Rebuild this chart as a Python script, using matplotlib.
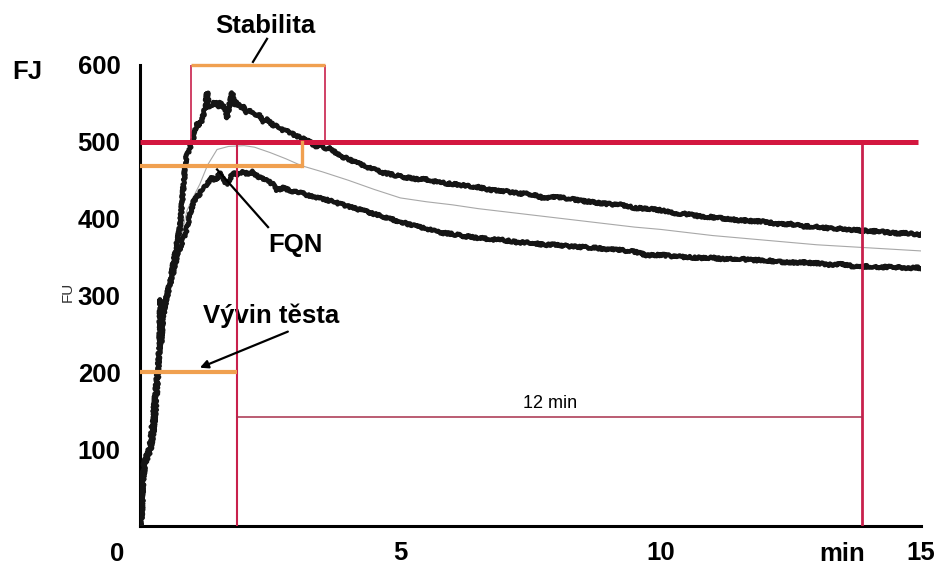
import matplotlib.pyplot as plt

plt.rcParams['font.family'] = ['Liberation Sans', 'DejaVu Sans']

# farinogram: cas [min], konzistence [FU]
cas_horni = [0.00, 0.03, 0.06, 0.10, 0.15, 0.19, 0.24, 0.29, 0.35, 0.40, 0.44, 0.50,
             0.58, 0.65, 0.72, 0.77, 0.82, 0.88, 0.94, 1.00, 1.05, 1.10, 1.15, 1.19,
             1.24, 1.29, 1.32, 1.38, 1.44, 1.50, 1.55, 1.60, 1.64, 1.67, 1.72, 1.77,
             1.81, 1.87, 1.93, 2.00, 2.05, 2.12, 2.20, 2.28, 2.37, 2.45, 2.55, 2.63,
             2.72, 2.80, 2.90, 3.00, 3.08, 3.18, 3.28, 3.38, 3.46, 3.55, 3.62, 3.70,
             3.80, 3.90, 4.00, 4.10, 4.20, 4.36, 4.50, 4.65, 4.80,
             5.00, 5.25, 5.50, 5.75, 6.00, 6.25, 6.50, 6.75, 7.00, 7.25, 7.50, 7.75,
             8.00, 8.25, 8.50, 8.75, 9.00, 9.25, 9.50, 9.75, 10.00, 10.25, 10.50,
             10.75, 11.00, 11.25, 11.50, 11.75, 12.00, 12.25, 12.50, 12.75, 13.00,
             13.25, 13.50, 13.75, 14.00, 14.25, 14.50, 14.75, 15.00]
fj_horni = [0, 10, 75, 88, 95, 103, 135, 168, 212, 250, 277, 295,
            318, 345, 372, 389, 430, 477, 490, 499, 512, 525, 522, 529,
            540, 564, 545, 548, 552, 545, 551, 546, 540, 531, 548, 564,
            548, 551, 544, 545, 538, 541, 534, 536, 526, 529, 522, 520,
            516, 514, 512, 507, 506, 502, 499, 494, 497, 491, 493, 488,
            485, 480, 478, 474, 472, 467, 464, 460, 458,
            455, 452, 451, 447, 445, 443, 441, 437, 436, 433, 432, 427,
            428, 426, 423, 421, 419, 418, 414, 413, 411, 407, 406,
            403, 402, 400, 398, 397, 396, 393, 393, 390, 390,
            387, 387, 385, 384, 383, 381, 381, 379]

cas_dolni = [0.00, 0.03, 0.06, 0.10, 0.15, 0.20, 0.25, 0.30, 0.34, 0.37, 0.39, 0.41,
             0.44, 0.50, 0.58, 0.65, 0.71, 0.80, 0.90, 0.96, 1.02, 1.08, 1.15, 1.21,
             1.30, 1.38, 1.45, 1.50, 1.54, 1.60, 1.67, 1.73, 1.79, 1.85, 1.92, 2.00,
             2.08, 2.17, 2.25, 2.35, 2.45, 2.55, 2.63, 2.75, 2.90, 3.08, 3.20, 3.35,
             3.50, 3.71, 3.90, 4.10, 4.36, 4.60, 4.80,
             5.00, 5.25, 5.50, 5.75, 6.00, 6.25, 6.50, 6.75, 7.00, 7.25, 7.50, 7.75,
             8.00, 8.25, 8.50, 8.75, 9.00, 9.25, 9.50, 9.75, 10.00, 10.25, 10.50,
             10.75, 11.00, 11.25, 11.50, 11.75, 12.00, 12.25, 12.50, 12.75, 13.00,
             13.25, 13.50, 13.75, 14.00, 14.25, 14.50, 14.75, 15.00]
fj_dolni = [0, 8, 60, 82, 90, 98, 118, 150, 190, 230, 295, 240,
            272, 292, 315, 333, 351, 368, 387, 405, 421, 428, 432, 440,
            446, 453, 450, 455, 460, 453, 444, 452, 460, 456, 459, 461,
            457, 461, 455, 452, 449, 445, 437, 440, 436, 434, 431, 428,
            426, 422, 418, 414, 409, 404, 400,
            396, 391, 387, 382, 380, 377, 375, 373, 372, 369, 369, 366,
            366, 364, 363, 362, 360, 359, 357, 352, 353, 351, 350,
            349, 349, 347, 348, 346, 346, 344, 343, 343, 342,
            340, 341, 337, 338, 337, 337, 336, 336]

cas_stred = [0.0, 0.1, 0.2, 0.3, 0.4, 0.5, 0.6, 0.7, 0.8, 0.9, 1.0, 1.15, 1.3, 1.48,
             1.7, 2.0, 2.2, 2.5, 2.8, 3.1, 3.5, 4.0, 4.5, 5.0, 5.5, 6.0, 6.5, 7.0,
             7.5, 8.0, 8.5, 9.0, 9.5, 10.0, 10.5, 11.0, 11.5, 12.0, 12.5, 13.0,
             13.5, 14.0, 14.5, 15.0]
fj_stred = [0, 80, 100, 160, 240, 295, 320, 350, 380, 410, 425, 445, 470, 490,
            494, 495, 493, 486, 478, 469, 461, 450, 438, 427, 422, 418, 413, 409,
            405, 401, 397, 393, 389, 386, 382, 378, 375, 372, 369, 366,
            364, 362, 360, 358]

# vyznacene hodnoty
konzistence = 500
fqn_fj = 469
vyvin_cas = 1.87
vyvin_fj = 200
stab_od = 0.98
stab_do = 3.55
stab_fj = 600
fqn_do = 3.11
konec_12 = 13.87
fj_12 = 142

cervena = '#d3173f'
ruzova = '#c8204c'
oranzova = '#f0a050'
velikost = 18.5

fig = plt.figure(figsize=(9.42, 5.72), dpi=100)
ax = fig.add_axes([0.1486, 0.0804, 0.8291, 0.806])

for cas, fj in [(cas_horni, fj_horni), (cas_dolni, fj_dolni)]:
    line, = ax.plot(cas, fj, color='#151515', lw=3.3, solid_joinstyle='round', zorder=3)
    line.set_sketch_params(1.2, 3, 3)
ax.plot(cas_stred, fj_stred, color='#a8a8a8', lw=0.8, zorder=2)

# konzistence 500 FU a 12 min
ax.plot([0, 14.94], [konzistence, konzistence], color=cervena, lw=3.6,
        solid_capstyle='butt', zorder=5)
ax.plot([vyvin_cas, vyvin_cas], [0, konzistence], color=ruzova, lw=1.5, zorder=4)
ax.plot([konec_12, konec_12], [0, konzistence], color=ruzova, lw=2.0, zorder=4)
ax.plot([vyvin_cas, konec_12], [fj_12, fj_12], color='#a8304c', lw=1.1, zorder=4)
ax.text((vyvin_cas + konec_12) / 2, fj_12 + 6, '12 min', ha='center', va='bottom',
        fontsize=13)

# stabilita
ax.plot([stab_od, stab_od], [konzistence, stab_fj], color=ruzova, lw=1.2, zorder=4)
ax.plot([stab_do, stab_do], [konzistence, stab_fj], color=ruzova, lw=1.2, zorder=4)
ax.plot([stab_od, stab_do], [stab_fj, stab_fj], color=oranzova, lw=2.4,
        solid_capstyle='butt', zorder=5, clip_on=False)
ax.text(2.40, 651, 'Stabilita', ha='center', va='center', fontsize=velikost,
        fontweight='bold')
ax.plot([2.44, 2.17], [634, 604], color='black', lw=1.6, clip_on=False)

# FQN
ax.plot([0, fqn_do], [fqn_fj, fqn_fj], color=oranzova, lw=3.0, solid_capstyle='butt', zorder=5)
ax.plot([fqn_do, fqn_do], [fqn_fj, konzistence], color=oranzova, lw=2.4, zorder=5)
ax.plot([1.48, 2.46], [464, 389], color='black', lw=1.6, zorder=6)
ax.text(2.98, 366, 'FQN', ha='center', va='center', fontsize=velikost, fontweight='bold')

# vyvin testa
ax.plot([0, vyvin_cas], [vyvin_fj, vyvin_fj], color=oranzova, lw=3.0,
        solid_capstyle='butt', zorder=5)
ax.annotate('', xy=(1.15, 206), xytext=(2.84, 253),
            arrowprops=dict(arrowstyle='-|>', color='black', lw=1.6,
                            mutation_scale=12, shrinkA=0, shrinkB=0), zorder=6)
ax.text(2.52, 273, 'Vývin těsta', ha='center', va='center', fontsize=velikost,
        fontweight='bold')

ax.set_xlim(0, 15)
ax.set_ylim(0, 600)
ax.set_xticks([5, 10, 15])
ax.set_yticks([100, 200, 300, 400, 500, 600])
ax.tick_params(length=0, labelsize=velikost)
ax.tick_params(axis='y', pad=14)
ax.tick_params(axis='x', pad=11)
for lab in ax.get_xticklabels() + ax.get_yticklabels():
    lab.set_fontweight('bold')
for s in ['top', 'right']:
    ax.spines[s].set_visible(False)
for s in ['left', 'bottom']:
    ax.spines[s].set_linewidth(2.2)
    ax.spines[s].set_color('black')

ax.text(-0.44, -36, '0', ha='center', va='center', fontsize=velikost, fontweight='bold')
ax.text(13.48, -36, 'min', ha='center', va='center', fontsize=velikost, fontweight='bold')
ax.text(-1.38, 305, 'FU', ha='center', va='center', rotation=90, fontsize=11,
        color='#333333')
fig.text(27 / 942, 1 - 72 / 572, 'FJ', ha='center', va='center', fontsize=velikost,
         fontweight='bold')

fig.savefig('out.png', dpi=100)
